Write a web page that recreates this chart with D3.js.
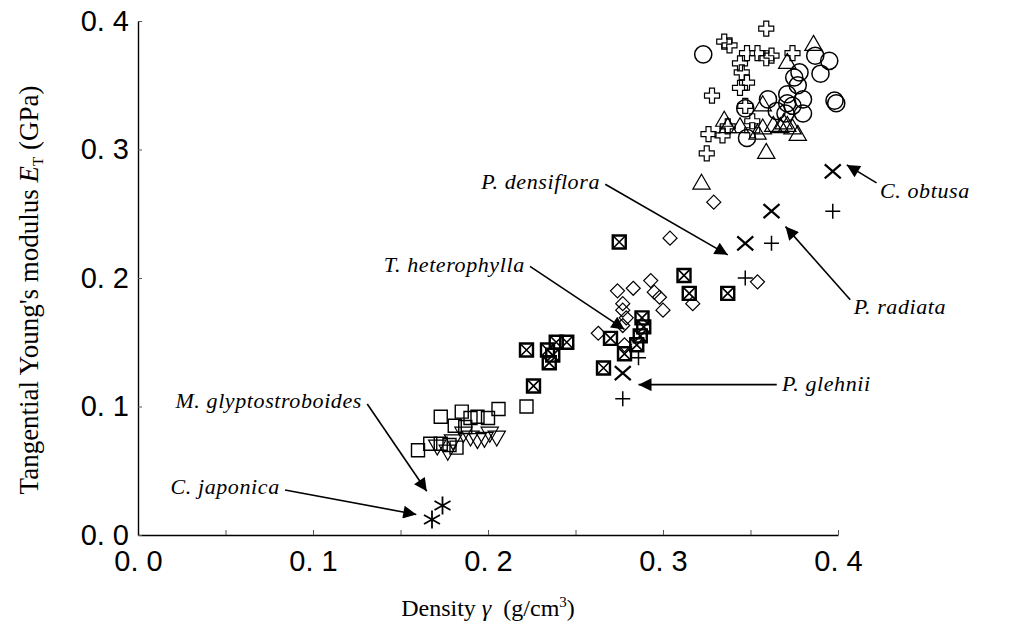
<!DOCTYPE html>
<html>
<head>
<meta charset="utf-8">
<script src="https://cdn.jsdelivr.net/npm/d3@7"></script>
<style>
  body { margin: 0; background: #fff; }
  svg { display: block; }
</style>
</head>
<body>
<div id="chart"></div>
<script>
// density γ (g/cm3), tangential modulus E_T (GPa)
const circles = [
  [0.323,0.374],[0.387,0.373],[0.395,0.369],[0.390,0.359],[0.378,0.360],[0.375,0.356],
  [0.377,0.350],[0.371,0.343],[0.380,0.339],[0.360,0.339],[0.398,0.338],[0.399,0.336],
  [0.371,0.336],[0.365,0.330],[0.374,0.334],[0.380,0.328],[0.347,0.332],[0.348,0.309],
  [0.370,0.328]
];
const openCrosses = [
  [0.359,0.394],[0.335,0.384],[0.338,0.381],[0.348,0.375],[0.354,0.375],[0.359,0.371],
  [0.362,0.373],[0.374,0.375],[0.344,0.367],[0.345,0.360],[0.348,0.352],[0.344,0.348],
  [0.328,0.342],[0.347,0.334],[0.351,0.322],[0.337,0.318],[0.326,0.312],[0.334,0.311],
  [0.325,0.297],[0.351,0.315]
];
const triangles = [
  [0.386,0.381],[0.371,0.367],[0.357,0.334],[0.335,0.322],[0.344,0.317],[0.354,0.312],
  [0.357,0.316],[0.363,0.318],[0.367,0.317],[0.371,0.318],[0.374,0.316],[0.377,0.311],
  [0.359,0.297],[0.369,0.320],[0.337,0.317],[0.322,0.273]
];
const diamonds = [
  [0.329,0.259],[0.304,0.231],[0.293,0.198],[0.274,0.190],[0.283,0.192],[0.295,0.189],
  [0.298,0.185],[0.277,0.180],[0.317,0.180],[0.354,0.197],[0.300,0.175],[0.277,0.175],
  [0.279,0.169],[0.263,0.157],[0.277,0.163],[0.278,0.148]
];
const boxedX = [
  [0.275,0.228],[0.312,0.202],[0.315,0.188],[0.337,0.188],[0.288,0.169],[0.289,0.162],
  [0.287,0.155],[0.270,0.153],[0.278,0.141],[0.285,0.148],[0.266,0.130],[0.222,0.144],
  [0.234,0.144],[0.235,0.134],[0.239,0.150],[0.245,0.150],[0.237,0.140],[0.226,0.116]
];
const squares = [
  [0.160,0.066],[0.167,0.071],[0.173,0.071],[0.178,0.070],[0.182,0.068],[0.173,0.092],
  [0.185,0.096],[0.190,0.091],[0.194,0.092],[0.200,0.091],[0.206,0.098],[0.222,0.100],
  [0.181,0.085],[0.187,0.084]
];
const invTriangles = [
  [0.171,0.070],[0.177,0.066],[0.180,0.074],[0.186,0.080],[0.190,0.077],[0.194,0.075],
  [0.198,0.076],[0.205,0.077],[0.201,0.080]
];
const timesMarks = [[0.277,0.126],[0.347,0.227],[0.362,0.252],[0.397,0.283]];
const plusMarks = [[0.277,0.106],[0.286,0.138],[0.347,0.200],[0.362,0.227],[0.397,0.252]];
const asterisks = [[0.168,0.012],[0.174,0.023]];

const xTicks = [0, 0.1, 0.2, 0.3, 0.4];
const yTicks = [0, 0.1, 0.2, 0.3, 0.4];

// species labels: text anchor point and arrow from/to, in data units
const notes = [
  { name: "P. densiflora",      tx: 0.264, ty: 0.269, anchor: "end",   from: [0.267,0.273], to: [0.337,0.218] },
  { name: "T. heterophylla",    tx: 0.221, ty: 0.205, anchor: "end",   from: [0.224,0.209], to: [0.278,0.160] },
  { name: "M. glyptostroboides",tx: 0.128, ty: 0.099, anchor: "end",   from: [0.131,0.102], to: [0.165,0.034] },
  { name: "C. japonica",        tx: 0.081, ty: 0.032, anchor: "end",   from: [0.084,0.035], to: [0.159,0.016] },
  { name: "P. glehnii",         tx: 0.368, ty: 0.112, anchor: "start", from: [0.365,0.117], to: [0.286,0.117] },
  { name: "P. radiata",         tx: 0.409, ty: 0.172, anchor: "start", from: [0.407,0.183], to: [0.370,0.240] },
  { name: "C. obtusa",          tx: 0.424, ty: 0.262, anchor: "start", from: [0.422,0.274], to: [0.405,0.288] }
];

const width = 1015, height = 631;
const margin = { left: 138, right: 177, top: 21, bottom: 96 };

const svg = d3.select("#chart").append("svg")
  .attr("width", width).attr("height", height);

const x = d3.scaleLinear().domain([0, 0.4]).range([margin.left, width - margin.right]);
const y = d3.scaleLinear().domain([0, 0.4]).range([height - margin.bottom, margin.top]);

const fmt = d => d3.format(".1f")(d).replace(".", ". ");

// axes
const xAxis = svg.append("g")
  .attr("transform", `translate(0,${y(0)})`)
  .call(d3.axisBottom(x).tickValues(d3.range(0, 0.401, 0.05)).tickSizeInner(-5).tickSizeOuter(0)
    .tickFormat(d => xTicks.some(t => Math.abs(t - d) < 1e-9) ? fmt(d) : ""));
xAxis.select(".domain").attr("stroke", "#000").attr("stroke-width", 1.4);
xAxis.selectAll(".tick line").attr("stroke", "#555");
xAxis.selectAll("text")
  .attr("font-family", "Liberation Sans, Arial, sans-serif")
  .attr("font-size", 29).attr("fill", "#000").attr("dy", "1.15em");

const yAxis = svg.append("g")
  .attr("transform", `translate(${x(0)},0)`)
  .call(d3.axisLeft(y).tickValues(yTicks).tickSizeInner(-4).tickSizeOuter(0).tickFormat(fmt));
yAxis.select(".domain").attr("stroke", "#000").attr("stroke-width", 1.4);
yAxis.selectAll(".tick line").attr("stroke", "#555");
yAxis.selectAll("text")
  .attr("font-family", "Liberation Sans, Arial, sans-serif")
  .attr("font-size", 29).attr("fill", "#000").attr("x", -9);

// axis titles
svg.append("text")
  .attr("x", 488).attr("y", 616)
  .attr("text-anchor", "middle")
  .attr("font-family", "Liberation Serif, Times New Roman, serif")
  .attr("font-size", 24)
  .html('Density <tspan font-style="italic">γ</tspan>\u00a0\u00a0(g/cm<tspan font-size="15" dy="-9">3</tspan><tspan dy="9">)</tspan>');

svg.append("text")
  .attr("transform", `translate(38,290) rotate(-90)`)
  .attr("text-anchor", "middle")
  .attr("font-family", "Liberation Serif, Times New Roman, serif")
  .attr("font-size", 27)
  .html('Tangential Young\'s modulus <tspan font-style="italic">E</tspan><tspan font-size="15" dy="5">T</tspan><tspan dy="-5"> (GPa)</tspan>');

// marker shapes
const shapes = {
  circle: d3.symbol(d3.symbolCircle, 230)(),
  tri: d3.symbol(d3.symbolTriangle, 130)(),
  square: "M-6.5,-6.5H6.5V6.5H-6.5Z",
  diamond: "M0,-7L7,0L0,7L-7,0Z",
  openCross: "M-2.5,-7.5H2.5V-2.5H7.5V2.5H2.5V7.5H-2.5V2.5H-7.5V-2.5H-2.5Z",
  times: "M-8,-7L8,7M-8,7L8,-7",
  plus: "M-7.5,0H7.5M0,-7.5V7.5",
  asterisk: "M0,-9V9M-8,-4.5L8,4.5M-8,4.5L8,-4.5"
};

function plot(data, path, opts) {
  svg.append("g").selectAll("path")
    .data(data)
    .join("path")
    .attr("d", path)
    .attr("transform", d => `translate(${x(d[0])},${y(d[1])})${opts.rotate ? " rotate(180)" : ""}`)
    .attr("fill", "none")
    .attr("stroke", "#000")
    .attr("stroke-width", opts.sw);
}

plot(squares, shapes.square, { sw: 1.4 });
plot(invTriangles, shapes.tri, { sw: 1.2, rotate: true });
plot(diamonds, shapes.diamond, { sw: 1.2 });
plot(triangles, shapes.tri, { sw: 1.2 });
plot(openCrosses, shapes.openCross, { sw: 1.2 });
plot(circles, shapes.circle, { sw: 1.5 });
plot(boxedX, shapes.square, { sw: 2.4 });
plot(boxedX, "M-6,-6L6,6M-6,6L6,-6", { sw: 1.6 });
plot(timesMarks, shapes.times, { sw: 2.2 });
plot(plusMarks, shapes.plus, { sw: 1.5 });
plot(asterisks, shapes.asterisk, { sw: 1.8 });

// arrows and species names
svg.append("defs").append("marker")
  .attr("id", "head")
  .attr("viewBox", "0 0 10 10")
  .attr("refX", 10).attr("refY", 5)
  .attr("markerWidth", 18).attr("markerHeight", 13)
  .attr("markerUnits", "userSpaceOnUse")
  .attr("orient", "auto")
  .append("path").attr("d", "M0,0L10,5L0,10Z").attr("fill", "#000");

const ann = svg.append("g");
ann.selectAll("line")
  .data(notes)
  .join("line")
  .attr("x1", d => x(d.from[0])).attr("y1", d => y(d.from[1]))
  .attr("x2", d => x(d.to[0])).attr("y2", d => y(d.to[1]))
  .attr("stroke", "#000").attr("stroke-width", 1.6)
  .attr("marker-end", "url(#head)");

ann.selectAll("text")
  .data(notes)
  .join("text")
  .attr("x", d => x(d.tx)).attr("y", d => y(d.ty))
  .attr("text-anchor", d => d.anchor)
  .attr("font-family", "Liberation Serif, Times New Roman, serif")
  .attr("font-style", "italic")
  .attr("font-size", 22)
  .attr("letter-spacing", 0.6)
  .text(d => d.name);
</script>
</body>
</html>
